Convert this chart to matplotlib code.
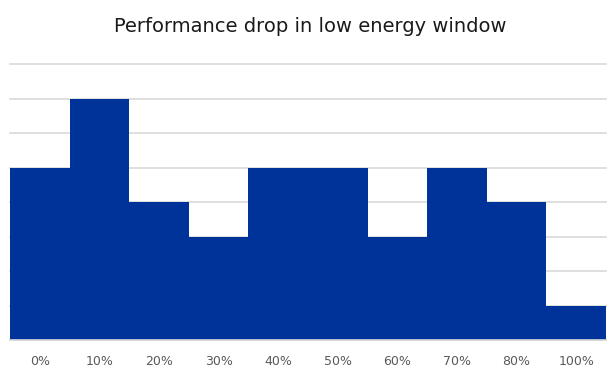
import matplotlib
matplotlib.use("Agg")
import matplotlib.pyplot as plt

# Datos
categories = ["0%", "10%", "20%", "30%", "40%", "50%", "60%", "70%", "80%", "100%"]
counts = [5, 7, 4, 3, 5, 5, 3, 5, 4, 1]

fig = plt.figure(figsize=(6.07, 3.70), dpi=100)
ax = fig.add_axes([10 / 607, 1 - 340 / 370, 596 / 607, (340 - 64) / 370])

x = list(range(len(categories)))
ax.bar(x, counts, width=1.0, color="#003399", edgecolor="none", zorder=2)

ax.set_xlim(-0.5, len(categories) - 0.5)
ax.set_ylim(0, 8)
ax.set_yticks(range(0, 9))
ax.set_yticklabels([])
ax.tick_params(axis="y", length=0)
ax.grid(axis="y", color="#d9d9d9", linewidth=1.2, zorder=0)
for gl in ax.get_ygridlines():
    gl.set_clip_on(False)

ax.set_xticks(x)
ax.set_xticklabels(categories, color="#595959", fontsize=9)
ax.tick_params(axis="x", length=0, pad=11)

for side in ["top", "right", "left"]:
    ax.spines[side].set_visible(False)
ax.spines["bottom"].set_color("#d9d9d9")
ax.spines["bottom"].set_linewidth(1.2)

fig.text(310 / 607, 1 - 27 / 370, "Performance drop in low energy window",
         ha="center", va="center", fontsize=14, color="#1a1a1a")

fig.savefig("out.png", dpi=100)
